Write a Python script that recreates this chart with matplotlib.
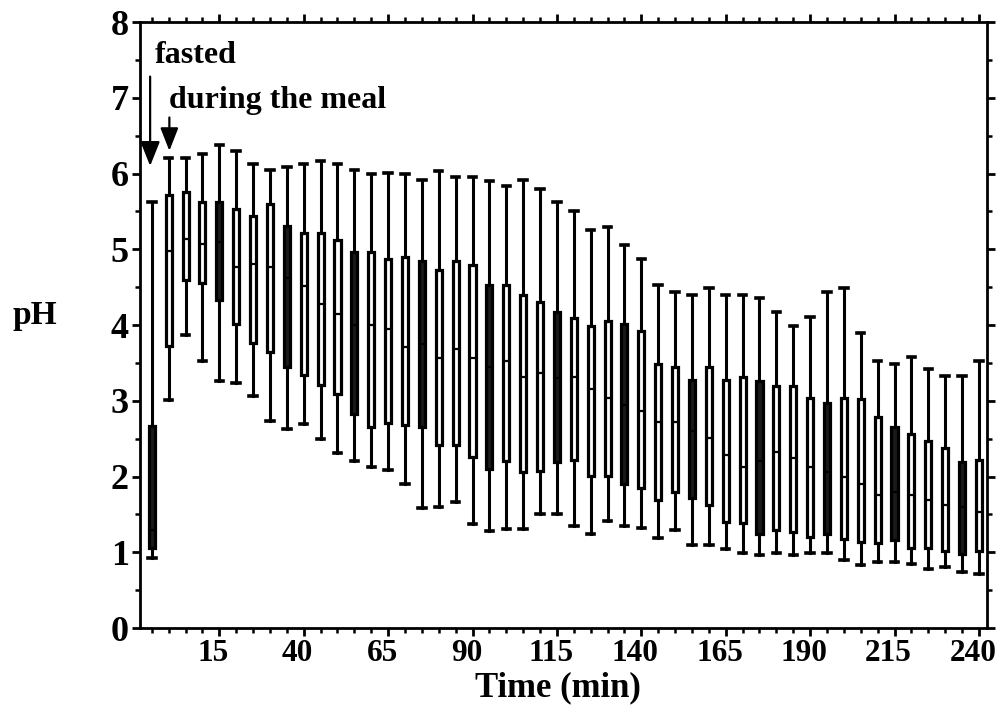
import matplotlib
matplotlib.use("Agg")
import matplotlib.pyplot as plt
import matplotlib.transforms as mtransforms
from matplotlib.ticker import MultipleLocator, FixedLocator

# ---- data ----
times = [-5, 0, 5, 10, 15, 20, 25, 30, 35, 40, 45, 50, 55, 60, 65, 70, 75, 80, 85, 90,
         95, 100, 105, 110, 115, 120, 125, 130, 135, 140, 145, 150, 155, 160, 165, 170,
         175, 180, 185, 190, 195, 200, 205, 210, 215, 220, 225, 230, 235, 240]
whis_lo = [0.93, 3.01, 3.87, 3.52, 3.26, 3.23, 3.06, 2.73, 2.63, 2.69, 2.50, 2.31, 2.21, 2.12,
           2.09, 1.90, 1.58, 1.60, 1.67, 1.37, 1.28, 1.31, 1.31, 1.51, 1.51, 1.35, 1.24, 1.41,
           1.35, 1.32, 1.19, 1.29, 1.10, 1.10, 1.04, 0.99, 0.96, 0.99, 0.96, 0.99, 0.99, 0.90,
           0.83, 0.87, 0.87, 0.84, 0.78, 0.81, 0.74, 0.71]
q1 = [1.05, 3.72, 4.59, 4.55, 4.33, 4.01, 3.76, 3.64, 3.45, 3.34, 3.21, 3.09, 2.83, 2.66,
      2.71, 2.68, 2.66, 2.42, 2.42, 2.26, 2.10, 2.21, 2.06, 2.07, 2.19, 2.22, 2.01, 2.01,
      1.90, 1.85, 1.69, 1.80, 1.71, 1.62, 1.40, 1.38, 1.24, 1.29, 1.27, 1.20, 1.24, 1.17,
      1.14, 1.12, 1.16, 1.05, 1.05, 1.02, 0.98, 1.02]
median = [1.30, 4.98, 5.14, 5.07, 5.10, 4.76, 4.80, 4.77, 4.62, 4.52, 4.28, 4.14, 4.00, 4.00,
          3.95, 3.71, 3.75, 3.57, 3.69, 3.56, 3.45, 3.53, 3.31, 3.36, 3.30, 3.31, 3.16, 3.04,
          2.95, 2.86, 2.72, 2.72, 2.60, 2.51, 2.29, 2.12, 2.20, 2.33, 2.24, 2.13, 2.06, 2.00,
          1.90, 1.75, 1.80, 1.75, 1.69, 1.63, 1.60, 1.53]
q3 = [2.67, 5.72, 5.75, 5.63, 5.63, 5.53, 5.44, 5.60, 5.31, 5.22, 5.22, 5.12, 4.96, 4.96,
      4.87, 4.90, 4.84, 4.72, 4.85, 4.79, 4.53, 4.53, 4.40, 4.30, 4.17, 4.09, 3.99, 4.05,
      4.02, 3.92, 3.49, 3.45, 3.28, 3.45, 3.28, 3.32, 3.26, 3.20, 3.20, 3.04, 2.97, 3.04,
      3.02, 2.79, 2.66, 2.56, 2.47, 2.38, 2.19, 2.22]
whis_hi = [5.62, 6.20, 6.20, 6.26, 6.37, 6.30, 6.13, 6.04, 6.08, 6.13, 6.17, 6.13, 6.04, 5.99,
           6.01, 5.99, 5.92, 6.03, 5.96, 5.96, 5.90, 5.83, 5.92, 5.80, 5.63, 5.51, 5.25, 5.30,
           5.06, 4.87, 4.53, 4.43, 4.40, 4.49, 4.40, 4.40, 4.36, 4.17, 3.99, 4.11, 4.43, 4.49,
           3.90, 3.53, 3.48, 3.58, 3.42, 3.33, 3.33, 3.53]
x_tick_labels = [15, 40, 65, 90, 115, 140, 165, 190, 215, 240]
y_tick_labels = [0, 1, 2, 3, 4, 5, 6, 7, 8]

SERIF = ["Liberation Serif", "DejaVu Serif"]
plt.rcParams["font.family"] = SERIF
plt.rcParams["font.weight"] = "bold"

fig = plt.figure(figsize=(10.0, 7.13), dpi=100)
ax = fig.add_axes([0.140, 0.1192, 0.847, 0.8499])

stats = []
for i in range(len(times)):
    stats.append(dict(whislo=whis_lo[i], q1=q1[i], med=median[i], q3=q3[i],
                      whishi=whis_hi[i], fliers=[]))

res = ax.bxp(stats, positions=times, widths=1.8, patch_artist=True,
             showfliers=False, capwidths=2.2,
             boxprops=dict(facecolor="white", edgecolor="black", linewidth=2.3),
             medianprops=dict(color="black", linewidth=1.6),
             whiskerprops=dict(color="black", linewidth=2.2),
             capprops=dict(color="black", linewidth=2.6),
             manage_ticks=False)
# every fourth box appears dark in the print
for i, b in enumerate(res["boxes"]):
    if i % 4 == 0:
        b.set_facecolor("#1a1a1a")

ax.set_xlim(-8.5, 242.4)
ax.set_ylim(0, 8)

for s in ax.spines.values():
    s.set_linewidth(2.0)

ax.xaxis.set_major_locator(FixedLocator(x_tick_labels))
ax.xaxis.set_minor_locator(MultipleLocator(5))
ax.yaxis.set_major_locator(FixedLocator(y_tick_labels))
ax.yaxis.set_minor_locator(MultipleLocator(0.5))
ax.tick_params(axis="both", which="major", direction="out", length=6, width=2,
               top=True, right=True)
ax.tick_params(axis="both", which="minor", direction="out", length=3.5, width=1.8,
               top=True, right=True)
ax.tick_params(axis="x", which="major", labelsize=22.5, pad=2)
ax.tick_params(axis="y", which="major", labelsize=26, pad=2)
ax.set_xticklabels([str(v) for v in x_tick_labels], fontweight="bold")
ax.set_yticklabels([str(v) for v in y_tick_labels], fontweight="bold")
shift = mtransforms.ScaledTranslation(-0.06, 0, fig.dpi_scale_trans)
for lab in ax.get_xticklabels():
    lab.set_transform(lab.get_transform() + shift)

# annotations
ax.text(-4.2, 7.56, "fasted", fontsize=23, fontweight="bold", va="center", ha="left")
ax.text(0.2, 6.97, "during the meal", fontsize=23, fontweight="bold", va="center", ha="left")
ax.annotate("", xy=(-5.5, 6.10), xytext=(-5.5, 7.28),
            arrowprops=dict(arrowstyle="-|>,head_length=1.5,head_width=0.6",
                            lw=1.6, color="black", shrinkA=0, shrinkB=0))
ax.annotate("", xy=(0.2, 6.30), xytext=(0.2, 6.74),
            arrowprops=dict(arrowstyle="-|>,head_length=1.4,head_width=0.55",
                            lw=1.6, color="black", shrinkA=0, shrinkB=0))

fig.text(0.035, 0.558, "pH", fontsize=24, fontweight="bold", ha="center", va="center")
fig.text(0.558, 0.036, "Time (min)", fontsize=25, fontweight="bold", ha="center", va="center")

fig.savefig("out.png", dpi=100)
